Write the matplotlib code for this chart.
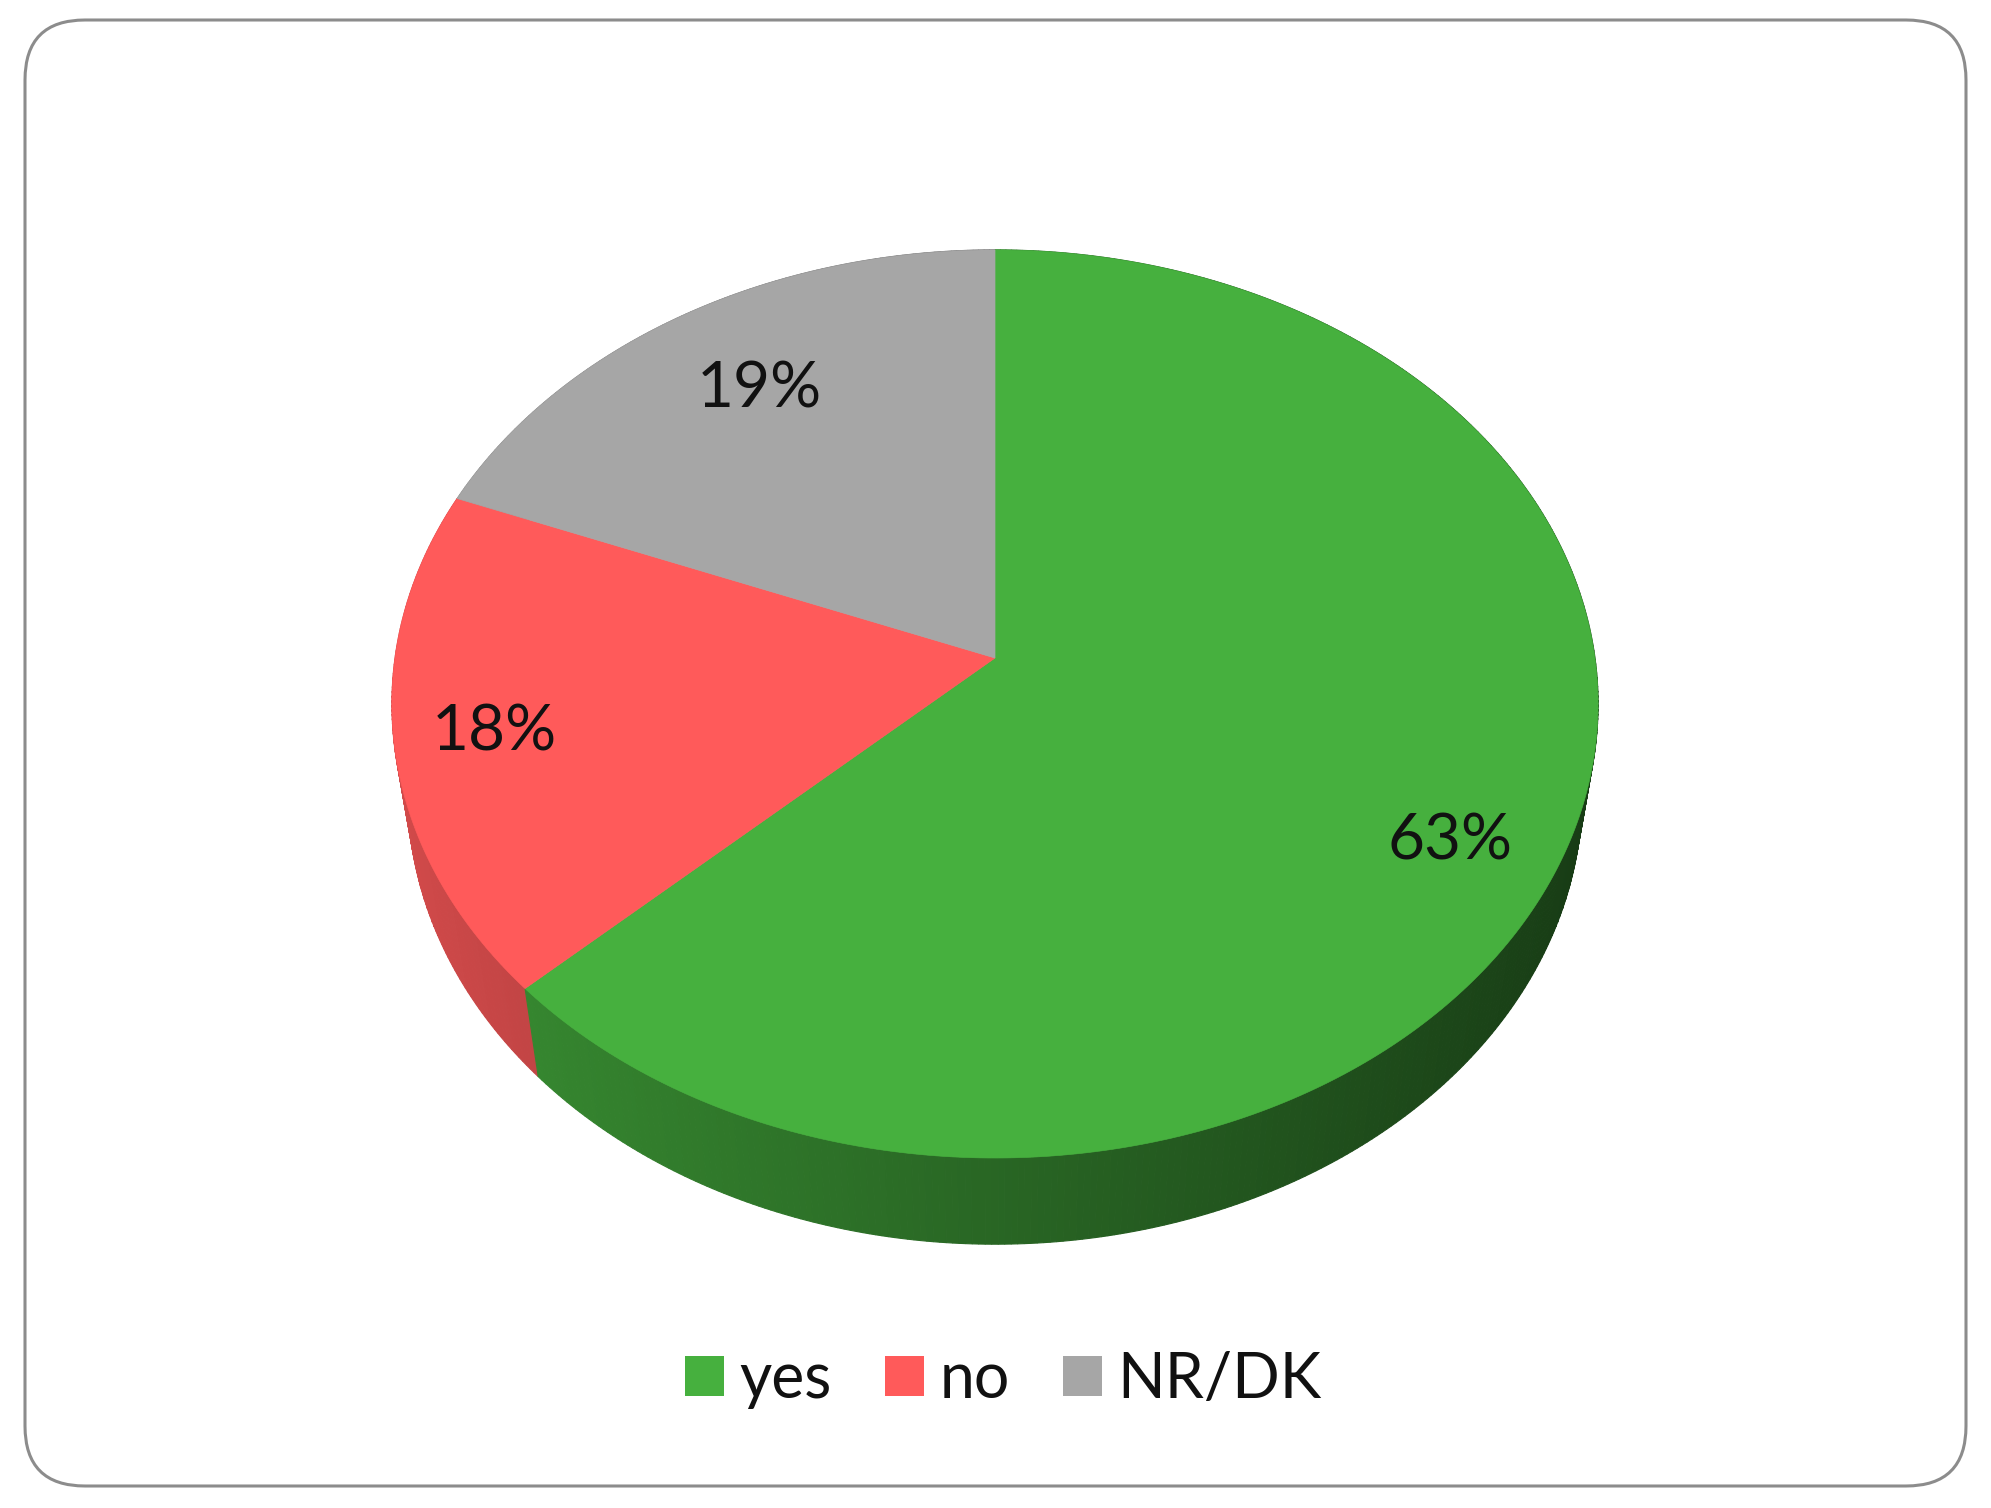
import numpy as np
import matplotlib.pyplot as plt
from matplotlib.patches import Polygon, FancyBboxPatch, Patch

categories = ["yes", "no", "NR/DK"]
values = [63, 18, 19]
labels = ["63%", "18%", "19%"]
colors = ["#46B03E", "#FF5A5A", "#A6A6A6"]
label_offsets = [(0, 36), (-22, 6), (17, 10)]  # pixel nudges for label placement

W, H = 1991, 1508
fig = plt.figure(figsize=(W / 100, H / 100), dpi=100)
ax = fig.add_axes([0, 0, 1, 1])
ax.set_xlim(0, W)
ax.set_ylim(H, 0)
ax.axis('off')

# rounded border
box = FancyBboxPatch((25, 20), 1941, 1466, boxstyle="round,pad=0,rounding_size=60",
                     facecolor='white', edgecolor='#8c8c8c', linewidth=2.2, zorder=0)
ax.add_patch(box)

# perspective projection of a 3D disc
cx, cy = 995, 658
f = 3930.0
D = 6.55
alpha = np.arcsin(0.749)
s, c = np.sin(alpha), np.cos(alpha)
h = 0.2345


def proj(theta, r=1.0, z=0.0):
    x = r * np.sin(theta)
    y = r * np.cos(theta)
    depth = D + y * c - z * s
    sx = f * x / depth
    sy = f * (y * s + z * c) / depth
    return cx + sx, cy - sy


def shade(col, x):
    rgb = np.array(plt.matplotlib.colors.to_rgb(col))
    k = 0.58 - 0.25 * x
    return tuple(np.clip(rgb * k, 0, 1))


vals = np.array(values, dtype=float)
fracs = vals / vals.sum()
starts = np.concatenate([[0], np.cumsum(fracs)[:-1]]) * 2 * np.pi
ends = np.cumsum(fracs) * 2 * np.pi

# side walls
segs = []
for i, (a0, a1) in enumerate(zip(starts, ends)):
    n = max(4, int((a1 - a0) / 0.01))
    th = np.linspace(a0, a1, n + 1)
    for j in range(n):
        t0, t1 = th[j], th[j + 1]
        tm = 0.5 * (t0 + t1)
        pts = [proj(t0, 1, 0), proj(t1, 1, 0), proj(t1, 1, -h), proj(t0, 1, -h)]
        segs.append((np.cos(tm), pts, shade(colors[i], np.sin(tm))))
segs.sort(key=lambda t: -t[0])
for k, (_, pts, col) in enumerate(segs):
    ax.add_patch(Polygon(pts, closed=True, facecolor=col, edgecolor=col,
                         linewidth=0.8, zorder=1))

# top faces
for i, (a0, a1) in enumerate(zip(starts, ends)):
    th = np.linspace(a0, a1, 300)
    pts = [proj(0, 0, 0)] + [proj(t, 1, 0) for t in th]
    ax.add_patch(Polygon(pts, closed=True, facecolor=colors[i], edgecolor=colors[i],
                         linewidth=0.5, zorder=2))

# labels
for i, (a0, a1) in enumerate(zip(starts, ends)):
    mid = 0.5 * (a0 + a1)
    lx, ly = proj(mid, 0.8, 0)
    ox, oy = label_offsets[i]
    ax.text(lx + ox, ly + oy, labels[i], ha='center', va='center', fontsize=46,
            family='Lato', color='#111111', zorder=3)

handles = [Patch(facecolor=col, edgecolor='none') for col in colors]
leg = ax.legend(handles, categories, loc='center', bbox_to_anchor=(0.504, 0.085),
                ncol=3, frameon=False, handlelength=0.62,
                handleheight=0.62, handletextpad=0.25, columnspacing=0.85,
                prop={'family': 'Lato', 'size': 45})
for t in leg.get_texts():
    t.set_color('#111111')

fig.savefig('out.png', dpi=100)
